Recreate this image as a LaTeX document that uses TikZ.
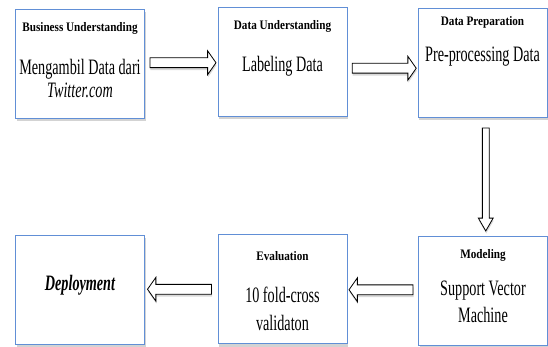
\documentclass[tikz,border=0pt]{standalone}
\usepackage{fontspec}
\setmainfont{Liberation Serif}
\newfontfamily\bodyfont[FakeStretch=0.645]{Liberation Serif}
\newfontfamily\headfont[FakeStretch=0.86]{Liberation Serif}
\usetikzlibrary{shapes.arrows,shadows}
\definecolor{boxblue}{rgb}{0.38, 0.56, 0.84}

\tikzset{
  stage/.style={draw=boxblue, line width=0.9pt, fill=white, minimum width=129pt,
    minimum height=109pt, inner sep=0pt,
    drop shadow={shadow xshift=1pt, shadow yshift=-3pt, opacity=0.35}},
  head/.style={font=\headfont\bfseries\fontsize{13}{15}\selectfont, inner sep=0pt, anchor=base},
  body/.style={font=\bodyfont\fontsize{22}{22}\selectfont, align=center, inner sep=0pt, anchor=base},
  pointer/.style={single arrow, draw=black, line width=0.8pt, fill=white, inner sep=4.5pt,
    text height=0pt, text depth=0pt, minimum width=0pt, single arrow head extend=7pt,
    single arrow tip angle=110, minimum height=64pt,
    drop shadow={shadow xshift=0.5pt, shadow yshift=-2.5pt, opacity=0.3}},
}

\begin{document}
\begin{tikzpicture}[x=1pt,y=-1pt]
\useasboundingbox (0,0) rectangle (548,347);

% boxes
\node[stage] (bu) at (80,63.5) {};
\node[stage] (du) at (282.5,62) {};
\node[stage] (dp) at (482.5,62.5) {};
\node[stage] (dep) at (80,289.5) {};
\node[stage] (ev) at (282.5,289) {};
\node[stage] (mo) at (483,290.5) {};

% texts
\node[head] (buT) at (80,32) {Business Understanding};
\node[body] (buB) at (80,98) {Mengambil Data dari\\[1pt]\textit{Twitter.com}};
\node[head] (duT) at (282.5,30) {Data Understanding};
\node[body] (duB) at (282.5,72) {Labeling Data};
\node[head] (dpT) at (482.5,26) {Data Preparation};
\node[body] (dpB) at (482.5,62) {Pre-processing Data};
\node[head] (moT) at (483,258) {Modeling};
\node[body] (moB) at (483,322) {Support Vector\\[5pt]Machine};
\node[head] (evT) at (282.5,260) {Evaluation};
\node[body] (evB) at (282.5,330) {10 fold-cross\\[6pt]validaton};
\node[body] (depB) at (80,290) {\bfseries\itshape Deployment};

% arrows
\path (bu.east) -- (du.west) node[pointer, midway, minimum height=66pt] (a1) {};
\path ([yshift=-6pt]du.east) -- ([yshift=-6pt]dp.west) node[pointer, midway] (a2) {};
\path ([xshift=3pt]dp.south) -- ([xshift=3pt]mo.north)
  node[pointer, midway, shape border rotate=270, inner sep=3pt, single arrow head extend=4pt,
    single arrow tip angle=60, minimum height=103pt] (a3) {};
\path (mo.west) -- (ev.east) node[pointer, midway, shape border rotate=180] (a4) {};
\path (ev.west) -- (dep.east) node[pointer, midway, shape border rotate=180] (a5) {};
\end{tikzpicture}
\end{document}
